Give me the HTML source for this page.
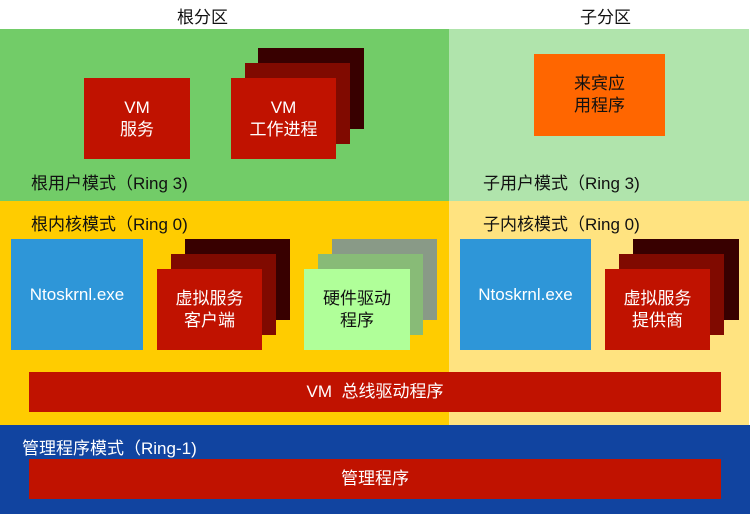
<!DOCTYPE html>
<html><head><meta charset="utf-8"><style>
*{margin:0;padding:0;box-sizing:border-box}
body{width:750px;height:515px;background:#fff;position:relative;overflow:hidden;font-family:"Liberation Sans","Noto Sans CJK SC",sans-serif}
div{position:absolute}
.b{display:flex;align-items:center;justify-content:center;text-align:center;color:#fff;font-size:17px;line-height:22px}
.l{font-size:17px;color:#111;white-space:nowrap}
</style></head><body>
<div class="l" style="left:177px;top:3px">根分区</div>
<div class="l" style="left:580px;top:3px">子分区</div>
<div style="left:0;top:29px;width:449px;height:172px;background:#72cc68"></div>
<div style="left:449px;top:29px;width:300px;height:172px;background:#b0e4ac"></div>
<div style="left:0;top:201px;width:449px;height:224px;background:#ffcc00"></div>
<div style="left:449px;top:201px;width:300px;height:224px;background:#ffe380"></div>
<div style="left:0;top:425px;width:750px;height:89px;background:#1144a0"></div>

<div class="b" style="left:84px;top:78px;width:106px;height:81px;background:#c01200">VM<br>服务</div>
<div style="left:258px;top:48px;width:106px;height:81px;background:#380000"></div>
<div style="left:245px;top:63px;width:105px;height:81px;background:#800a00"></div>
<div class="b" style="left:231px;top:78px;width:105px;height:81px;background:#c01200">VM<br>工作进程</div>
<div class="b" style="left:534px;top:54px;width:131px;height:82px;background:#ff6600;color:#111">来宾应<br>用程序</div>

<div class="l" style="left:31px;top:169px">根用户模式（Ring 3)</div>
<div class="l" style="left:483px;top:169px">子用户模式（Ring 3)</div>
<div class="l" style="left:31px;top:210px">根内核模式（Ring 0)</div>
<div class="l" style="left:483px;top:210px">子内核模式（Ring 0)</div>

<div class="b" style="left:11px;top:239px;width:132px;height:111px;background:#2e96d8;font-size:17px">Ntoskrnl.exe</div>
<div style="left:185px;top:239px;width:105px;height:81px;background:#380000"></div>
<div style="left:171px;top:254px;width:105px;height:81px;background:#800a00"></div>
<div class="b" style="left:157px;top:269px;width:105px;height:81px;background:#c01200">虚拟服务<br>客户端</div>
<div style="left:332px;top:239px;width:105px;height:81px;background:#899a87"></div>
<div style="left:318px;top:254px;width:105px;height:81px;background:#88bb77"></div>
<div class="b" style="left:304px;top:269px;width:106px;height:81px;background:#b0ff99;color:#111">硬件驱动<br>程序</div>
<div class="b" style="left:460px;top:239px;width:131px;height:111px;background:#2e96d8;font-size:17px">Ntoskrnl.exe</div>
<div style="left:633px;top:239px;width:106px;height:81px;background:#380000"></div>
<div style="left:619px;top:254px;width:105px;height:81px;background:#800a00"></div>
<div class="b" style="left:605px;top:269px;width:105px;height:81px;background:#c01200">虚拟服务<br>提供商</div>

<div class="b" style="left:29px;top:372px;width:692px;height:40px;background:#c01200">VM&nbsp; 总线驱动程序</div>
<div class="l" style="left:22px;top:434px;color:#fff">管理程序模式（Ring-1)</div>
<div class="b" style="left:29px;top:459px;width:692px;height:40px;background:#c01200">管理程序</div>
</body></html>
